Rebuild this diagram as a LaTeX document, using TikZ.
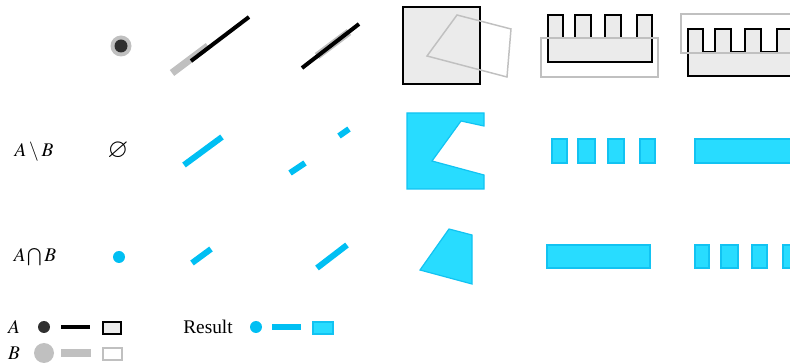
\documentclass[tikz,border=0pt]{standalone}
\usepackage{mathptmx}
\usepackage{amssymb}
\usepackage[no-math]{fontspec}
\setmainfont{Liberation Serif}

\definecolor{setgray}{HTML}{C0C0C0}
\definecolor{fillA}{HTML}{EBEBEB}
\definecolor{dotdark}{HTML}{303030}
\definecolor{resblue}{HTML}{00BFF3}
\definecolor{resfill}{HTML}{28DCFF}
\definecolor{resedge}{HTML}{12C3F2}

\begin{document}
\begin{tikzpicture}[
  x=0.75pt, y=-0.75pt,
  font=\fontsize{14.5}{17}\selectfont,
  areaA/.style={draw=black, line width=1.5pt, fill=fillA},
  areaB/.style={draw=setgray, line width=1.1pt},
  lineA/.style={black, line width=3pt},
  lineB/.style={setgray, line width=5.5pt},
  resline/.style={resblue, line width=4.5pt},
  respoly/.style={draw=resedge, line width=0.9pt, fill=resfill},
]
\useasboundingbox (0,0) rectangle (790,363);
\clip (0,0) rectangle (790,363);

% Row labels
\node (diff) at (34,152) {$A\setminus B$};
\node (inter) at (35,257) {$A\bigcap B$};

% Column 1: two points
\fill[setgray] (121,46) circle (10.5);
\fill[dotdark] (121,46) circle (6.5);
\node[inner sep=0pt, font=\fontsize{20}{22}\selectfont] (none) at (118,151) {$\varnothing$};
\fill[resblue] (119,257) circle (6);

% Column 2: overlapping line segments
\draw[lineB] (172,73) -- (208,46);
\draw[lineA] (191,61) -- (249,17);
\draw[resline] (184,165) -- (222,137);
\draw[resline] (192,263) -- (211,249);

% Column 3: line B lies inside line A
\draw[lineB] (317,56) -- (349,32);
\draw[lineA] (302,68) -- (359,24);
\draw[resline] (290,173) -- (305,163);
\draw[resline] (339,136) -- (349,129);
\draw[resline] (317,268) -- (347,245);

% Column 4: square and tilted quadrilateral
\draw[areaA] (403,7) rectangle (480,84);
\draw[areaB] (457,15) -- (511,29) -- (507,77) -- (427,56) -- cycle;
\draw[respoly] (407,113) -- (484,113) -- (484,126) -- (461,121) -- (432,161)
  -- (484,175) -- (484,189) -- (407,189) -- cycle;
\draw[respoly] (449,229) -- (472,235) -- (472,284) -- (420,270) -- cycle;

% Columns 5 and 6: comb against a bar
\foreach \dx/\dy in {548/15, 688/29} {
  \draw[areaA, shift={(\dx,\dy)}] (0,47) -- (0,0) -- (15,0) -- (15,23) -- (27,23)
    -- (27,0) -- (43,0) -- (43,23) -- (57,23) -- (57,0) -- (73,0) -- (73,23)
    -- (89,23) -- (89,0) -- (104,0) -- (104,47) -- cycle;
}
\draw[areaB] (541,38) rectangle (658,77);
\draw[areaB] (681,14) rectangle (800,53);

% Column 5 results
\foreach \xa/\xb in {552/567, 578/595, 608/624, 640/655} {
  \draw[respoly] (\xa,139) rectangle (\xb,163);
}
\draw[respoly] (547,245) rectangle (650,268);

% Column 6 results
\draw[respoly] (695,139) rectangle (800,163);
\foreach \xa/\xb in {695/709, 721/738, 752/767, 783/800} {
  \draw[respoly] (\xa,245) rectangle (\xb,268);
}

% Legend
\node (legA) at (14,327) {$A$};
\fill[dotdark] (44,327) circle (6);
\draw[lineA] (61,327) -- (90,327);
\draw[areaA] (103,322) rectangle (121,334);

\node (legB) at (14,353) {$B$};
\fill[setgray] (44,353) circle (10);
\draw[lineB] (61,353) -- (91,353);
\draw[areaB] (103,348) rectangle (122,360);

\node (legRes) at (208,327) {Result};
\fill[resblue] (256,327) circle (6);
\draw[resline, line width=3.8pt] (272,327) -- (301,327);
\draw[respoly] (313,322) rectangle (333,334);

\end{tikzpicture}
\end{document}
